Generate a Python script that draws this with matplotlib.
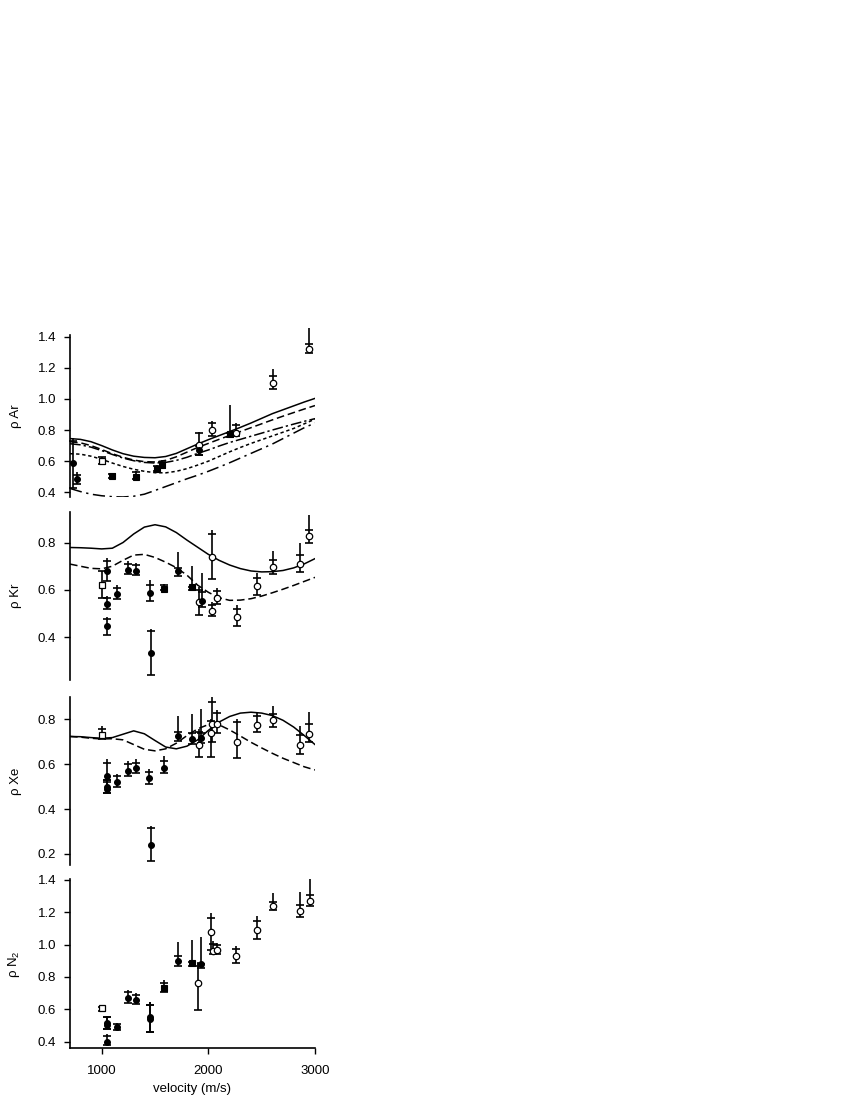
import matplotlib
matplotlib.use("Agg")
import matplotlib.pyplot as plt
import numpy as np

plt.rcParams['font.family'] = ['Liberation Sans', 'DejaVu Sans']
plt.rcParams['mathtext.default'] = 'regular'

# ---------------- model curves (velocity grid) ----------------
curve_x = [703, 800, 900, 1000, 1100, 1200, 1300, 1400, 1500, 1600, 1700, 1800,
           1900, 2000, 2100, 2200, 2300, 2400, 2500, 2600, 2700, 2800, 2900, 3000]

ar_solid   = [0.745, 0.740, 0.725, 0.700, 0.672, 0.648, 0.632, 0.624, 0.622, 0.630, 0.650, 0.680,
              0.710, 0.738, 0.764, 0.790, 0.817, 0.845, 0.875, 0.905, 0.930, 0.955, 0.980, 1.003]
ar_dashed  = [0.725, 0.718, 0.700, 0.675, 0.648, 0.625, 0.607, 0.597, 0.595, 0.605, 0.628, 0.658,
              0.688, 0.714, 0.740, 0.765, 0.790, 0.815, 0.840, 0.865, 0.889, 0.912, 0.935, 0.957]
ar_dashdot = [0.712, 0.705, 0.690, 0.668, 0.643, 0.620, 0.603, 0.592, 0.588, 0.592, 0.605, 0.625,
              0.650, 0.672, 0.697, 0.720, 0.740, 0.760, 0.780, 0.800, 0.819, 0.838, 0.856, 0.873]
ar_dotted  = [0.648, 0.645, 0.632, 0.612, 0.588, 0.566, 0.548, 0.535, 0.526, 0.525, 0.535, 0.552,
              0.575, 0.600, 0.630, 0.660, 0.688, 0.714, 0.738, 0.762, 0.786, 0.810, 0.840, 0.870]
ar_bottom  = [0.425, 0.405, 0.388, 0.378, 0.372, 0.370, 0.375, 0.388, 0.412, 0.437, 0.462, 0.487,
              0.510, 0.535, 0.562, 0.590, 0.620, 0.650, 0.680, 0.710, 0.745, 0.780, 0.815, 0.845]

kr_solid   = [0.779, 0.778, 0.776, 0.773, 0.776, 0.800, 0.836, 0.865, 0.875, 0.866, 0.842, 0.810,
              0.780, 0.750, 0.725, 0.705, 0.690, 0.680, 0.676, 0.677, 0.682, 0.693, 0.710, 0.732]
kr_dashed  = [0.709, 0.700, 0.691, 0.689, 0.700, 0.725, 0.747, 0.750, 0.737, 0.717, 0.694, 0.662,
              0.620, 0.590, 0.567, 0.556, 0.557, 0.563, 0.574, 0.588, 0.603, 0.619, 0.636, 0.653]

xe_solid   = [0.723, 0.722, 0.718, 0.715, 0.718, 0.733, 0.748, 0.735, 0.705, 0.676, 0.668, 0.680,
              0.708, 0.750, 0.787, 0.812, 0.827, 0.831, 0.827, 0.816, 0.795, 0.765, 0.727, 0.687]
xe_dashed  = [0.723, 0.720, 0.715, 0.712, 0.713, 0.708, 0.687, 0.666, 0.659, 0.668, 0.693, 0.727,
              0.757, 0.776, 0.775, 0.752, 0.725, 0.697, 0.672, 0.648, 0.626, 0.607, 0.588, 0.574]

# ---------------- data points ----------------
# kind: f = filled circle, o = open circle, s = open square, S = filled square
ar_x    = [734, 766, 1000, 1100, 1319, 1522, 1569, 1913, 1913, 2038, 2204, 2260, 2604, 2948]
ar_y    = [0.589, 0.486, 0.600, 0.503, 0.500, 0.552, 0.573, 0.706, 0.670, 0.797, 0.774, 0.780, 1.105, 1.319]
ar_lo   = [0.430, 0.456, 0.580, 0.490, 0.485, 0.535, 0.555, 0.640, 0.640, 0.760, 0.755, 0.760, 1.063, 1.293]
ar_plus = [0.730, 0.513, 0.625, 0.515, 0.530, 0.570, 0.595, 0.780, 0.700, 0.845, 0.780, 0.830, 1.144, 1.353]
ar_top  = [0.750, 0.528, 0.625, 0.515, 0.540, 0.575, 0.605, 0.790, 0.700, 0.860, 0.960, 0.845, 1.190, 1.454]
ar_kind = ['f', 'f', 's', 'S', 'S', 'S', 'S', 'o', 'f', 'o', 'S', 'o', 'o', 'o']

kr_x    = [1000, 1047, 1047, 1047, 1147, 1250, 1322, 1453, 1459, 1585, 1719, 1843, 1913, 1938,
           2031, 2037, 2078, 2266, 2454, 2604, 2860, 2948]
kr_y    = [0.622, 0.681, 0.542, 0.446, 0.584, 0.685, 0.681, 0.587, 0.334, 0.605, 0.681, 0.612, 0.549, 0.555,
           0.741, 0.512, 0.568, 0.486, 0.615, 0.696, 0.710, 0.828]
kr_lo   = [0.566, 0.636, 0.520, 0.411, 0.560, 0.667, 0.662, 0.552, 0.243, 0.598, 0.657, 0.600, 0.496, 0.530,
           0.647, 0.490, 0.540, 0.446, 0.577, 0.668, 0.674, 0.800]
kr_plus = [0.678, 0.723, 0.568, 0.477, 0.610, 0.709, 0.705, 0.622, 0.425, 0.622, 0.692, 0.612, 0.600, 0.590,
           0.835, 0.538, 0.596, 0.521, 0.651, 0.728, 0.747, 0.853]
kr_top  = [0.678, 0.734, 0.576, 0.484, 0.620, 0.720, 0.715, 0.643, 0.436, 0.626, 0.762, 0.699, 0.613, 0.671,
           0.853, 0.550, 0.610, 0.535, 0.672, 0.763, 0.800, 0.917]
kr_kind = ['s', 'f', 'f', 'f', 'f', 'f', 'f', 'f', 'f', 'S', 'f', 'S', 'o', 'f',
           'o', 'o', 'o', 'o', 'o', 'o', 'o', 'o']

xe_x    = [1000, 1047, 1047, 1047, 1147, 1250, 1325, 1447, 1459, 1585, 1719, 1843, 1913, 1932,
           2024, 2037, 2078, 2266, 2454, 2604, 2860, 2948]
xe_y    = [0.730, 0.549, 0.500, 0.490, 0.521, 0.570, 0.582, 0.540, 0.240, 0.584, 0.727, 0.712, 0.685, 0.716,
           0.737, 0.777, 0.777, 0.700, 0.775, 0.797, 0.683, 0.734]
xe_lo   = [0.710, 0.520, 0.470, 0.470, 0.498, 0.548, 0.560, 0.512, 0.170, 0.562, 0.705, 0.690, 0.631, 0.695,
           0.633, 0.700, 0.740, 0.626, 0.741, 0.766, 0.646, 0.697]
xe_plus = [0.755, 0.607, 0.530, 0.530, 0.546, 0.600, 0.607, 0.567, 0.314, 0.615, 0.745, 0.738, 0.745, 0.740,
           0.790, 0.875, 0.826, 0.787, 0.815, 0.822, 0.728, 0.777]
xe_top  = [0.770, 0.621, 0.540, 0.540, 0.556, 0.612, 0.622, 0.580, 0.325, 0.635, 0.815, 0.825, 0.757, 0.845,
           0.800, 0.898, 0.840, 0.800, 0.830, 0.858, 0.770, 0.830]
xe_kind = ['s', 'f', 'f', 'f', 'f', 'f', 'f', 'f', 'f', 'f', 'f', 'f', 'o', 'f',
           'o', 'o', 'o', 'o', 'o', 'o', 'o', 'o']

n2_x    = [1000, 1047, 1050, 1047, 1147, 1250, 1322, 1453, 1453, 1585, 1719, 1843, 1907, 1932,
           2024, 2040, 2078, 2260, 2454, 2604, 2860, 2955]
n2_y    = [0.607, 0.518, 0.503, 0.396, 0.493, 0.672, 0.658, 0.555, 0.540, 0.730, 0.901, 0.889, 0.765, 0.880,
           1.077, 0.963, 0.967, 0.930, 1.091, 1.239, 1.208, 1.272]
n2_lo   = [0.590, 0.480, 0.480, 0.377, 0.470, 0.640, 0.634, 0.462, 0.462, 0.710, 0.870, 0.870, 0.596, 0.855,
           0.967, 0.940, 0.945, 0.889, 1.033, 1.214, 1.169, 1.239]
n2_plus = [0.615, 0.550, 0.550, 0.437, 0.510, 0.710, 0.690, 0.627, 0.627, 0.760, 0.930, 0.890, 0.870, 0.880,
           1.163, 1.005, 1.000, 0.972, 1.147, 1.266, 1.245, 1.306]
n2_top  = [0.615, 0.560, 0.560, 0.450, 0.515, 0.720, 0.700, 0.648, 0.648, 0.780, 1.018, 1.029, 0.890, 1.050,
           1.193, 1.020, 1.010, 0.994, 1.180, 1.317, 1.328, 1.404]
n2_kind = ['s', 'f', 'f', 'f', 'f', 'f', 'f', 'f', 'f', 'S', 'f', 'S', 'o', 'f',
           'o', 'o', 'o', 'o', 'o', 'o', 'o', 'o']

# ---------------- figure ----------------
fig = plt.figure(figsize=(8.5, 11), dpi=100)
W, H = 850.0, 1100.0
left = 70 / W
width = 245 / W

def add_panel(top_px, bot_px):
    return fig.add_axes([left, 1 - bot_px / H, width, (bot_px - top_px) / H])

ax_ar = add_panel(335, 497)
ax_kr = add_panel(511.7, 680)
ax_xe = add_panel(696.7, 865)
ax_n2 = add_panel(879.3, 1048.3)

LW = 1.1

def draw_points(ax, xs, ys, lo, plus, top, kinds):
    for x, y, l, p, t, k in zip(xs, ys, lo, plus, top, kinds):
        ax.plot([x, x], [l, t], color='black', lw=1.2, solid_capstyle='butt',
                zorder=3, clip_on=False)
        ax.plot([x, x], [l, p], linestyle='none', marker='_', markersize=5.5,
                markeredgewidth=1.2, color='black', zorder=3, clip_on=False)
        if k == 'f':
            ax.plot(x, y, 'o', ms=4.2, mfc='black', mec='black', mew=0.8, zorder=5, clip_on=False)
        elif k == 'o':
            ax.plot(x, y, 'o', ms=4.6, mfc='white', mec='black', mew=0.9, zorder=5, clip_on=False)
        elif k == 's':
            ax.plot(x, y, 's', ms=4.4, mfc='white', mec='black', mew=0.9, zorder=5, clip_on=False)
        else:
            ax.plot(x, y, 's', ms=4.0, mfc='black', mec='black', mew=0.8, zorder=5, clip_on=False)

# Ar curves
ax_ar.plot(curve_x, ar_solid, color='black', lw=LW, zorder=2)
ax_ar.plot(curve_x, ar_dashed, color='black', lw=LW, dashes=(5, 2.5), zorder=2)
ax_ar.plot(curve_x, ar_dashdot, color='black', lw=LW, dashes=(7, 2, 1.5, 2), zorder=2)
ax_ar.plot(curve_x, ar_dotted, color='black', lw=LW, dashes=(2.2, 1.8), zorder=2)
ax_ar.plot(curve_x, ar_bottom, color='black', lw=LW, dashes=(8, 3, 1.5, 3), zorder=2)
draw_points(ax_ar, ar_x, ar_y, ar_lo, ar_plus, ar_top, ar_kind)

ax_kr.plot(curve_x, kr_solid, color='black', lw=LW, zorder=2)
ax_kr.plot(curve_x, kr_dashed, color='black', lw=LW, dashes=(5, 2.5), zorder=2)
draw_points(ax_kr, kr_x, kr_y, kr_lo, kr_plus, kr_top, kr_kind)

ax_xe.plot(curve_x, xe_solid, color='black', lw=LW, zorder=2)
ax_xe.plot(curve_x, xe_dashed, color='black', lw=LW, dashes=(5, 2.5), zorder=2)
draw_points(ax_xe, xe_x, xe_y, xe_lo, xe_plus, xe_top, xe_kind)

draw_points(ax_n2, n2_x, n2_y, n2_lo, n2_plus, n2_top, n2_kind)

limits = [(ax_ar, (0.37, 1.41), [0.4, 0.6, 0.8, 1.0, 1.2, 1.4], 'ρ Ar'),
          (ax_kr, (0.22, 0.93), [0.4, 0.6, 0.8], 'ρ Kr'),
          (ax_xe, (0.151, 0.90), [0.2, 0.4, 0.6, 0.8], 'ρ Xe'),
          (ax_n2, (0.359, 1.404), [0.4, 0.6, 0.8, 1.0, 1.2, 1.4], 'ρ N$_{2}$')]

for ax, yl, yt, lab in limits:
    ax.set_xlim(703, 3000)
    ax.set_ylim(*yl)
    ax.set_yticks(yt)
    ax.set_yticklabels(['%.1f' % v for v in yt])
    ax.patch.set_alpha(0)
    for s in ['top', 'right']:
        ax.spines[s].set_visible(False)
    ax.spines['left'].set_linewidth(1.2)
    ax.tick_params(axis='y', direction='out', length=4.0, width=1.0, labelsize=9.5, pad=6)
    ax.set_ylabel(lab, fontsize=9.5)
    ax.yaxis.set_label_coords(-0.195, 0.5)

for ax in [ax_ar, ax_kr, ax_xe]:
    ax.spines['bottom'].set_visible(False)
    ax.tick_params(axis='x', bottom=False, labelbottom=False)

ax_n2.spines['bottom'].set_linewidth(1.2)
ax_n2.set_xticks([1000, 2000, 3000])
ax_n2.set_xticklabels(['1000', '2000', '3000'])
ax_n2.tick_params(axis='x', direction='out', length=4.0, width=1.0, labelsize=9.5, pad=8)
ax_n2.set_xlabel('velocity (m/s)', fontsize=9.5, labelpad=4)

fig.savefig('out.png', dpi=100)
